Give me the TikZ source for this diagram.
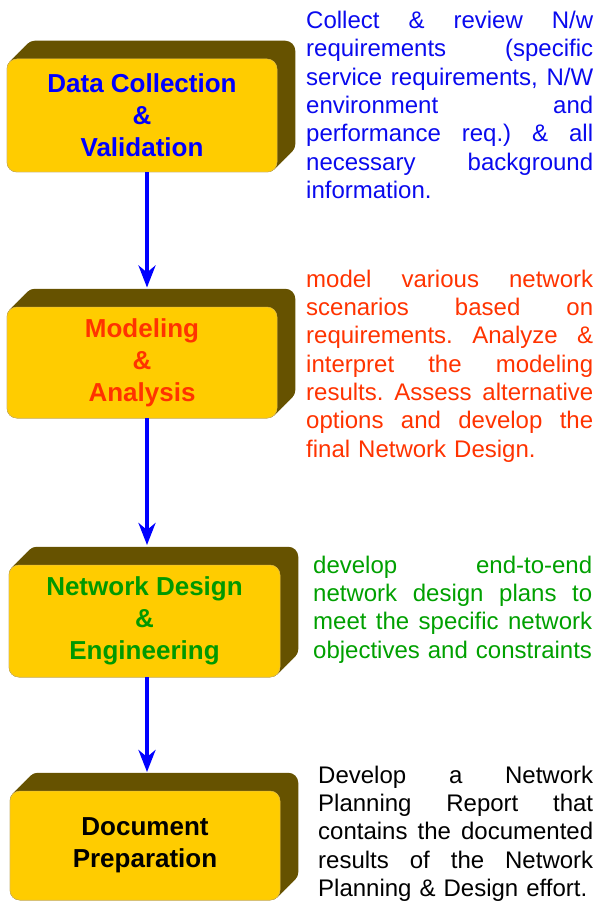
\documentclass[tikz,border=0pt]{standalone}
\usepackage{fontspec}
\setmainfont{Liberation Sans}
\usetikzlibrary{arrows.meta,backgrounds}
\definecolor{gold}{HTML}{FFCC00}
\definecolor{goldedge}{HTML}{E6C04A}
\definecolor{olive}{HTML}{665200}
\definecolor{arrowblue}{HTML}{0000FF}
\definecolor{boxblue}{HTML}{0000FF}
\definecolor{txtblue}{HTML}{0A0AEE}
\definecolor{boxred}{HTML}{FF3300}
\definecolor{txtred}{HTML}{FF3300}
\definecolor{boxgreen}{HTML}{009900}
\definecolor{txtgreen}{HTML}{00A000}
\newlength\jw
\newcommand\jl[1]{\leavevmode\hbox to \jw{\spaceskip=0.278em plus 3em\relax #1}\\}
\newcommand\extrude[1]{%
  \begin{scope}[on background layer]
    \foreach \i in {0,...,24}{
      \fill[olive, rounded corners=10pt]
        ([shift={(0.75*\i,-0.75*\i)}]#1.south west) rectangle
        ([shift={(0.75*\i,-0.75*\i)}]#1.north east);
    }
  \end{scope}}
\tikzset{
  front/.style={fill=gold, draw=goldedge, line width=0.5pt, rounded corners=10pt,
    inner sep=0pt, align=center, font=\fontsize{26}{32}\selectfont\bfseries},
  desc/.style={anchor=north west, inner sep=0pt, align=left,
    font=\fontsize{24}{28.3}\selectfont\frenchspacing},
  flow/.style={draw=arrowblue, line width=4pt,
    -{Stealth[length=22pt,width=17pt,inset=7pt]}},
}
\begin{document}
\begin{tikzpicture}[x=1pt,y=-1pt]
\useasboundingbox (0,0) rectangle (597,901);

% boxes
\node[front, text=boxblue, minimum width=270pt, minimum height=113pt] (b1) at (142,115.5)
  {Data Collection\\\&\\Validation};
\extrude{b1}
\node[front, text=boxred, minimum width=270pt, minimum height=111pt] (b2) at (142,362.5)
  {Modeling\\\&\\Analysis};
\extrude{b2}
\node[front, text=boxgreen, minimum width=271pt, minimum height=112pt] (b3) at (144.5,621)
  {Network Design\\\&\\Engineering};
\extrude{b3}
\node[front, text=black, minimum width=270pt, minimum height=109pt] (b4) at (145,845.5)
  {Document\\Preparation};
\extrude{b4}

% arrow targets (top of the back faces)
\coordinate (t2) at (147,287.5);
\coordinate (t3) at (147,545);
\coordinate (t4) at (147,772);

\draw[flow] (b1.south -| t2) -- (t2);
\draw[flow] (b2.south -| t3) -- (t3);
\draw[flow] (b3.south -| t4) -- (t4);

% descriptions
\node[desc, text=txtblue, text width=287pt] (d1) at (306,8.5) {\setlength\jw{287pt}\rule{0pt}{20pt}%
\jl{Collect \& review N/w}
\jl{requirements (specific}
\jl{service requirements, N/W}
\jl{environment and}
\jl{performance req.) \& all}
\jl{necessary background}
information.};

\node[desc, text=txtred, text width=287pt] (d2) at (306,267) {\setlength\jw{287pt}\rule{0pt}{20pt}%
\jl{model various network}
\jl{scenarios based on}
\jl{requirements. Analyze \&}
\jl{interpret the modeling}
\jl{results. Assess alternative}
\jl{options and develop the}
final Network Design.};

\node[desc, text=txtgreen, text width=279pt] (d3) at (313,553) {\setlength\jw{279pt}\rule{0pt}{20pt}%
\jl{develop end-to-end}
\jl{network design plans to}
\jl{meet the specific network}
objectives and constraints};

\node[desc, text=black, text width=275pt] (d4) at (318,763) {\setlength\jw{275pt}\rule{0pt}{20pt}%
\jl{Develop a Network}
\jl{Planning Report that}
\jl{contains the documented}
\jl{results of the Network}
Planning \& Design effort.};
\end{tikzpicture}
\end{document}
